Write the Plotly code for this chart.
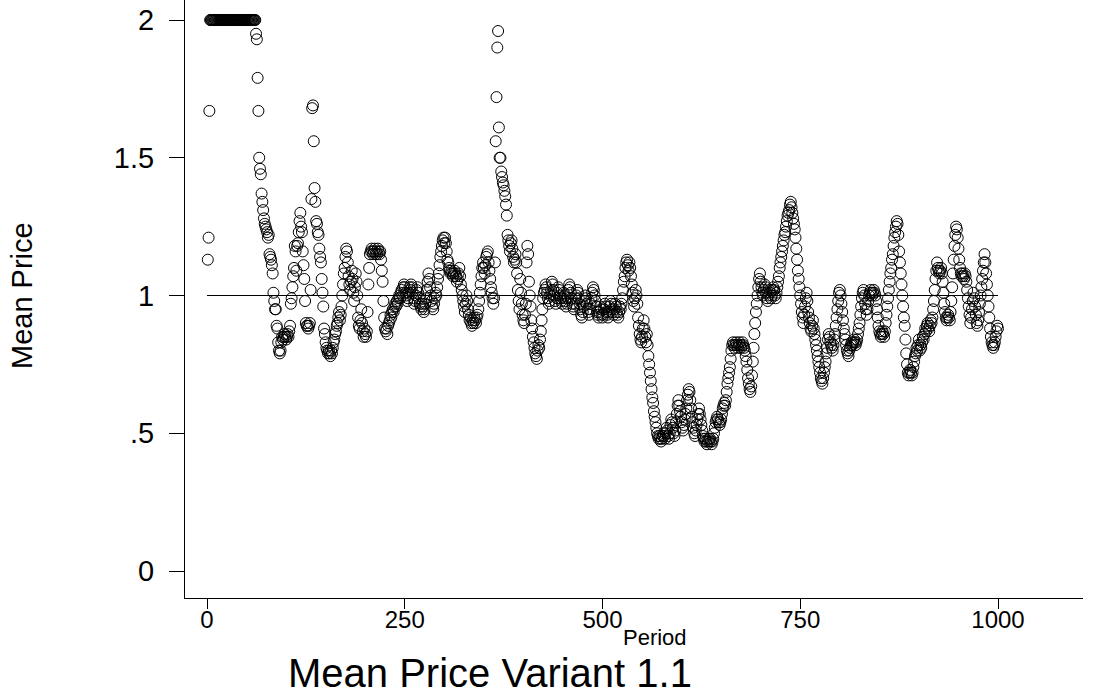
import plotly.graph_objects as go

# ---------------- data ----------------
period_start = 1
period_end = 1000
x_tick_values = [0, 250, 500, 750, 1000]
x_tick_labels = ["0", "250", "500", "750", "1000"]
y_tick_values = [0, 0.5, 1, 1.5, 2]
y_tick_labels = ["0", ".5", "1", "1.5", "2"]
reference_level = 1.0

price_001_100 = [
    1.13, 1.21, 1.67, 2.0, 2.0, 2.0, 2.0, 2.0, 2.0, 2.0,
    2.0, 2.0, 2.0, 2.0, 2.0, 2.0, 2.0, 2.0, 2.0, 2.0,
    2.0, 2.0, 2.0, 2.0, 2.0, 2.0, 2.0, 2.0, 2.0, 2.0,
    2.0, 2.0, 2.0, 2.0, 2.0, 2.0, 2.0, 2.0, 2.0, 2.0,
    2.0, 2.0, 2.0, 2.0, 2.0, 2.0, 2.0, 2.0, 2.0, 2.0,
    2.0, 2.0, 2.0, 2.0, 2.0, 2.0, 2.0, 2.0, 2.0, 2.0,
    2.0, 1.95, 1.93, 1.79, 1.67, 1.50, 1.46, 1.44, 1.37, 1.34,
    1.31, 1.28, 1.26, 1.25, 1.24, 1.23, 1.21, 1.22, 1.15, 1.14,
    1.13, 1.11, 1.08, 1.01, 0.98, 0.95, 0.95, 0.89, 0.88, 0.83,
    0.80, 0.79, 0.80, 0.83, 0.85, 0.84, 0.85, 0.86, 0.85, 0.84,
]
price_101_200 = [
    0.85, 0.86, 0.85, 0.87, 0.89, 0.97, 0.99, 1.03, 1.07, 1.10,
    1.18, 1.16, 1.09, 1.18, 1.19, 1.23, 1.27, 1.30, 1.25, 1.23,
    1.16, 1.11, 1.06, 0.98, 0.90, 0.89, 0.89, 0.88, 0.89, 0.90,
    1.02, 1.35, 1.68, 1.69, 1.56, 1.39, 1.34, 1.27, 1.26, 1.23,
    1.22, 1.17, 1.14, 1.12, 1.06, 1.01, 0.96, 0.88, 0.86, 0.83,
    0.81, 0.80, 0.79, 0.80, 0.79, 0.78, 0.80, 0.79, 0.81, 0.83,
    0.84, 0.86, 0.87, 0.89, 0.90, 0.92, 0.94, 0.91, 0.93, 0.96,
    1.00, 1.04, 1.08, 1.10, 1.14, 1.17, 1.16, 1.12, 1.07, 1.04,
    1.02, 1.05, 1.09, 1.06, 1.01, 0.98, 1.03, 1.08, 1.05, 1.00,
    0.92, 0.89, 0.88, 0.91, 0.95, 0.90, 0.87, 0.85, 0.88, 0.86,
]
price_201_300 = [
    0.85, 0.87, 0.94, 1.04, 1.10, 1.15, 1.16, 1.17, 1.16, 1.15,
    1.16, 1.17, 1.15, 1.16, 1.15, 1.17, 1.16, 1.15, 1.16, 1.13,
    1.09, 1.05, 0.98, 0.92, 0.88, 0.87, 0.88, 0.86, 0.89, 0.90,
    0.91, 0.93, 0.92, 0.94, 0.95, 0.94, 0.96, 0.97, 0.96, 0.98,
    0.97, 0.99, 1.00, 0.99, 1.01, 1.02, 1.00, 1.03, 1.04, 1.03,
    1.01, 1.00, 0.98, 0.99, 1.01, 1.03, 1.02, 1.04, 1.03, 1.01,
    0.99, 0.97, 0.98, 1.00, 1.02, 1.03, 1.01, 0.99, 0.97, 0.96,
    0.95, 0.97, 0.96, 0.94, 0.95, 0.97, 0.99, 1.02, 1.05, 1.08,
    1.06, 1.03, 1.00, 0.98, 0.96, 0.95, 0.97, 0.99, 1.01, 1.00,
    1.03, 1.06, 1.08, 1.11, 1.14, 1.16, 1.18, 1.20, 1.21, 1.19,
]
price_301_400 = [
    1.21, 1.19, 1.16, 1.13, 1.12, 1.10, 1.09, 1.08, 1.09, 1.08,
    1.07, 1.08, 1.09, 1.08, 1.07, 1.05, 1.06, 1.08, 1.10, 1.07,
    1.04, 1.02, 1.00, 0.98, 0.96, 0.94, 0.97, 1.00, 0.98, 0.95,
    0.93, 0.91, 0.92, 0.90, 0.89, 0.91, 0.90, 0.92, 0.91, 0.90,
    0.92, 0.93, 0.95, 0.98, 1.01, 1.04, 1.07, 1.10, 1.12, 1.10,
    1.08, 1.11, 1.14, 1.15, 1.16, 1.12, 1.09, 1.06, 1.03, 1.01,
    0.99, 0.97, 0.99, 1.12, 1.56, 1.72, 1.90, 1.96, 1.61, 1.50,
    1.50, 1.45, 1.43, 1.41, 1.40, 1.38, 1.36, 1.33, 1.29, 1.22,
    1.20, 1.18, 1.16, 1.19, 1.20, 1.17, 1.14, 1.12, 1.13, 1.15,
    1.12, 1.08, 1.02, 0.98, 0.95, 1.06, 1.01, 0.97, 0.93, 0.91,
]
price_401_500 = [
    0.90, 0.93, 0.97, 1.12, 1.18, 1.15, 1.05, 1.00, 0.96, 0.91,
    0.88, 0.85, 0.83, 0.81, 0.79, 0.78, 0.77, 0.80, 0.82, 0.81,
    0.84, 0.87, 0.91, 0.95, 0.99, 1.01, 1.02, 1.04, 1.03, 1.01,
    0.99, 0.97, 0.98, 1.00, 1.02, 1.05, 1.04, 1.02, 1.00, 0.98,
    0.97, 0.99, 1.01, 1.03, 1.02, 1.00, 0.99, 0.98, 0.97, 0.99,
    1.01, 1.00, 0.98, 0.96, 0.97, 0.99, 1.02, 1.04, 1.03, 1.01,
    0.99, 0.97, 0.96, 0.95, 0.97, 0.99, 1.00, 1.02, 1.01, 0.99,
    0.97, 0.95, 0.93, 0.92, 0.94, 0.96, 0.98, 1.00, 0.99, 0.97,
    0.95, 0.94, 0.93, 0.95, 0.97, 0.99, 1.01, 1.03, 1.02, 1.00,
    0.98, 0.96, 0.94, 0.93, 0.92, 0.94, 0.96, 0.95, 0.93, 0.92,
]
price_501_600 = [
    0.93, 0.95, 0.97, 0.96, 0.94, 0.93, 0.92, 0.94, 0.96, 0.98,
    0.97, 0.95, 0.94, 0.93, 0.95, 0.97, 0.96, 0.94, 0.93, 0.92,
    0.94, 0.96, 0.95, 0.97, 0.99, 1.02, 1.05, 1.07, 1.10, 1.12,
    1.13, 1.11, 1.09, 1.12, 1.10, 1.07, 1.04, 1.01, 0.98, 0.96,
    0.99, 1.02, 1.00, 0.97, 0.92, 0.89, 0.86, 0.84, 0.83, 0.85,
    0.88, 0.91, 0.88, 0.85, 0.83, 0.86, 0.82, 0.78, 0.75, 0.72,
    0.69, 0.66, 0.63, 0.61, 0.58, 0.56, 0.54, 0.52, 0.50, 0.49,
    0.48, 0.49, 0.48, 0.47, 0.48, 0.49, 0.50, 0.49, 0.48, 0.50,
    0.52, 0.51, 0.49, 0.48, 0.50, 0.53, 0.55, 0.54, 0.52, 0.50,
    0.49, 0.51, 0.54, 0.57, 0.60, 0.62, 0.60, 0.58, 0.56, 0.54,
]
price_601_700 = [
    0.52, 0.51, 0.53, 0.55, 0.57, 0.59, 0.62, 0.64, 0.66, 0.65,
    0.62, 0.59, 0.56, 0.54, 0.52, 0.50, 0.49, 0.51, 0.53, 0.55,
    0.57, 0.59, 0.57, 0.55, 0.53, 0.51, 0.49, 0.48, 0.47, 0.48,
    0.47, 0.46, 0.47, 0.48, 0.47, 0.48, 0.47, 0.46, 0.47, 0.48,
    0.50, 0.52, 0.54, 0.55, 0.56, 0.55, 0.54, 0.53, 0.54, 0.55,
    0.57, 0.59, 0.60, 0.61, 0.60, 0.62, 0.65, 0.68, 0.70, 0.72,
    0.74, 0.77, 0.80, 0.82, 0.83, 0.82, 0.81, 0.82, 0.83, 0.82,
    0.81, 0.82, 0.83, 0.82, 0.81, 0.82, 0.83, 0.82, 0.81, 0.80,
    0.78, 0.76, 0.73, 0.70, 0.68, 0.66, 0.65, 0.67, 0.71, 0.76,
    0.81, 0.86, 0.90, 0.94, 0.97, 1.00, 1.03, 1.06, 1.08, 1.05,
]
price_701_800 = [
    1.03, 1.01, 1.00, 1.02, 1.04, 1.03, 1.01, 0.99, 0.98, 1.00,
    1.02, 1.01, 0.99, 1.00, 1.02, 1.03, 1.02, 1.00, 0.99, 1.01,
    1.03, 1.05, 1.07, 1.10, 1.12, 1.14, 1.16, 1.18, 1.20, 1.22,
    1.23, 1.25, 1.27, 1.29, 1.30, 1.31, 1.33, 1.34, 1.32, 1.30,
    1.28, 1.26, 1.24, 1.21, 1.17, 1.13, 1.09, 1.06, 1.03, 1.00,
    0.97, 0.94, 0.92, 0.90, 0.93, 0.96, 0.99, 1.01, 0.98, 0.94,
    0.92, 0.90, 0.88, 0.87, 0.89, 0.91, 0.88, 0.86, 0.84, 0.82,
    0.80, 0.78, 0.76, 0.74, 0.72, 0.70, 0.69, 0.68, 0.70, 0.72,
    0.74, 0.76, 0.79, 0.81, 0.84, 0.86, 0.85, 0.83, 0.82, 0.81,
    0.80, 0.82, 0.84, 0.86, 0.89, 0.92, 0.95, 0.98, 1.01, 1.02,
]
price_801_900 = [
    1.00, 0.97, 0.94, 0.91, 0.88, 0.86, 0.84, 0.82, 0.80, 0.79,
    0.78, 0.80, 0.81, 0.82, 0.83, 0.82, 0.83, 0.84, 0.83, 0.82,
    0.83, 0.84, 0.86, 0.88, 0.90, 0.93, 0.96, 0.99, 1.01, 1.02,
    1.00, 0.97, 0.95, 0.93, 0.95, 0.98, 1.00, 1.01, 1.02, 1.01,
    1.00, 1.01, 1.02, 1.01, 1.00, 0.98, 0.95, 0.92, 0.89, 0.87,
    0.86, 0.85, 0.86, 0.87, 0.86, 0.85, 0.87, 0.90, 0.93, 0.96,
    0.99, 1.02, 1.05, 1.08, 1.10, 1.13, 1.15, 1.18, 1.21, 1.23,
    1.25, 1.27, 1.26, 1.22, 1.16, 1.12, 1.08, 1.04, 1.00, 0.96,
    0.92, 0.89, 0.84, 0.79, 0.75, 0.72, 0.71, 0.72, 0.73, 0.72,
    0.71, 0.72, 0.74, 0.76, 0.78, 0.79, 0.81, 0.80, 0.82, 0.84,
]
price_901_1000 = [
    0.80, 0.82, 0.81, 0.83, 0.85, 0.84, 0.86, 0.88, 0.87, 0.89,
    0.90, 0.88, 0.87, 0.89, 0.91, 0.90, 0.92, 0.95, 0.98, 1.02,
    1.06, 1.09, 1.12, 1.10, 1.09, 1.08, 1.09, 1.10, 1.08, 1.05,
    1.01, 0.97, 0.94, 0.92, 0.91, 0.92, 0.93, 0.92, 0.91, 0.94,
    0.98, 1.03, 1.08, 1.13, 1.18, 1.22, 1.25, 1.24, 1.21, 1.17,
    1.13, 1.10, 1.08, 1.07, 1.08, 1.07, 1.06, 1.08, 1.07, 1.05,
    1.02, 0.99, 0.96, 0.93, 0.90, 0.92, 0.95, 0.98, 1.01, 0.99,
    0.96, 0.93, 0.90, 0.89, 0.91, 0.94, 0.97, 1.00, 1.03, 1.06,
    1.09, 1.12, 1.15, 1.12, 1.08, 1.04, 1.00, 0.96, 0.92, 0.88,
    0.85, 0.83, 0.82, 0.81, 0.82, 0.83, 0.85, 0.87, 0.89, 0.88,
]

mean_price = (price_001_100 + price_101_200 + price_201_300 + price_301_400
              + price_401_500 + price_501_600 + price_601_700 + price_701_800
              + price_801_900 + price_901_1000)
period = list(range(period_start, period_end + 1))

# ---------------- figure ----------------
W, H = 1113, 698
L, R, T, B = 185, 30, 0, 100
FONT = "Liberation Sans, Arial, Helvetica, sans-serif"


def px_x(px):
    return (px - L) / (W - L - R)


def px_y(py):
    return (H - B - py) / (H - B - T)


fig = go.Figure()
fig.add_trace(go.Scatter(
    x=[x_tick_values[0], x_tick_values[-1]], y=[reference_level, reference_level],
    mode="lines", line=dict(color="black", width=1),
    hoverinfo="skip", showlegend=False))
fig.add_trace(go.Scatter(
    x=period, y=mean_price, mode="markers",
    marker=dict(symbol="circle-open", size=11, color="black",
                line=dict(width=1, color="black")),
    showlegend=False))

fig.update_layout(
    width=W, height=H,
    margin=dict(l=L, r=R, t=T, b=B, pad=0),
    paper_bgcolor="white", plot_bgcolor="white",
    font=dict(family=FONT, color="black"),
    showlegend=False,
    xaxis=dict(
        range=[-27.81, 1107.46], tickmode="array",
        tickvals=x_tick_values, ticktext=x_tick_labels,
        ticks="outside", ticklen=10, tickwidth=1, tickcolor="black",
        ticklabelstandoff=-10,
        showline=True, linecolor="black", linewidth=1,
        showgrid=False, zeroline=False,
        tickfont=dict(size=24, family=FONT, color="black")),
    yaxis=dict(
        range=[-0.098, 2.0726], tickmode="array",
        tickvals=y_tick_values, ticktext=y_tick_labels,
        ticks="outside", ticklen=15, tickwidth=1, tickcolor="black",
        ticklabelstandoff=9,
        showline=True, linecolor="black", linewidth=1,
        showgrid=False, zeroline=False,
        tickfont=dict(size=29, family=FONT, color="black")),
    annotations=[
        dict(text="Period", xref="paper", yref="paper",
             x=px_x(655), y=px_y(637),
             xanchor="center", yanchor="middle", showarrow=False,
             font=dict(size=22, family=FONT, color="black")),
        dict(text="Mean Price", xref="paper", yref="paper",
             x=px_x(22), y=px_y(296),
             xanchor="center", yanchor="middle", showarrow=False, textangle=-90,
             font=dict(size=29, family=FONT, color="black")),
        dict(text="Mean Price Variant 1.1", xref="paper", yref="paper",
             x=px_x(490), y=px_y(673),
             xanchor="center", yanchor="middle", showarrow=False,
             font=dict(size=40, family=FONT, color="black")),
    ],
)

fig.write_html("out.html")
